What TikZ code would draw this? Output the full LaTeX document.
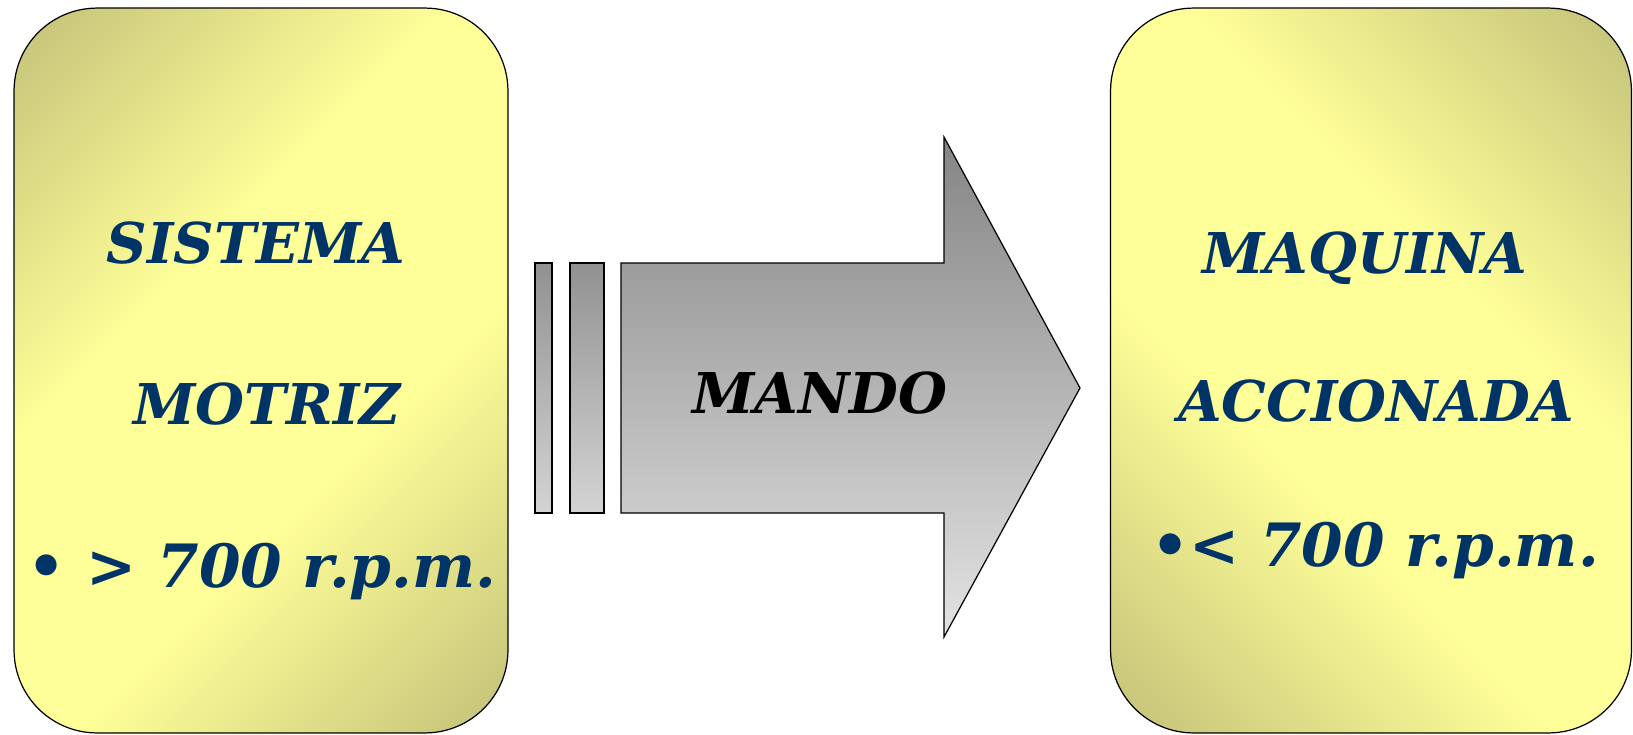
\documentclass[tikz,border=0pt]{standalone}
\usepackage{fontspec}
\setmainfont{DejaVu Serif}
\usepackage{xcolor}
\usepackage{tikz}

\definecolor{oliva}{RGB}{198,196,122}
\definecolor{amarillo}{RGB}{255,255,153}
\definecolor{azul}{RGB}{0,51,102}
\pgfdeclareverticalshading{brillo}{100bp}{color(0bp)=(oliva); color(16bp)=(oliva);
    color(40bp)=(amarillo); color(60bp)=(amarillo); color(84bp)=(oliva); color(100bp)=(oliva)}

\begin{document}
\begin{tikzpicture}[x=0.02cm,y=-0.02cm,
    caja/.style={draw,line width=0.7pt,rounded corners=1.66cm,shading=brillo},
    rotulo/.style={anchor=base,text=azul,font=\fontsize{32}{38}\selectfont\bfseries\itshape},
    rpm/.style={rotulo,font=\fontsize{34}{40}\selectfont\bfseries\itshape},
    gris/.style={draw,line width=0.7pt}]
    \useasboundingbox (0,0) rectangle (1633,734);

    % Cajas
    \node[caja,shading angle=45,minimum width=9.88cm,minimum height=14.5cm] (motriz) at (261,370.5) {};
    \node[caja,shading angle=-45,minimum width=10.42cm,minimum height=14.5cm] (maquina) at (1371,370.5) {};

    % Barras y flecha
    \draw[gris,top color=black!43,bottom color=black!17] (535,263) rectangle (552,513);
    \draw[gris,top color=black!43,bottom color=black!17] (570,263) rectangle (604,513);
    \draw[gris,top color=black!48,bottom color=black!11]
        (621,263) -- (944,263) -- (944,137) -- (1080,388) -- (944,637) -- (944,513) -- (621,513) -- cycle;

    % Textos
    \node[rotulo] (sistema) at (256,263) {SISTEMA};
    \node[rotulo] (motor) at (267,424) {MOTRIZ};
    \node[rpm] (rpmalta) at (262,587) {• > 700 r.p.m.};
    \node[rotulo,text=black] (mando) at (820,413) {MANDO};
    \node[rotulo] (maq) at (1365,273) {MAQUINA};
    \node[rotulo] (accionada) at (1376,421) {ACCIONADA};
    \node[rpm] (rpmbaja) at (1375,566) {•< 700 r.p.m.};
\end{tikzpicture}
\end{document}
